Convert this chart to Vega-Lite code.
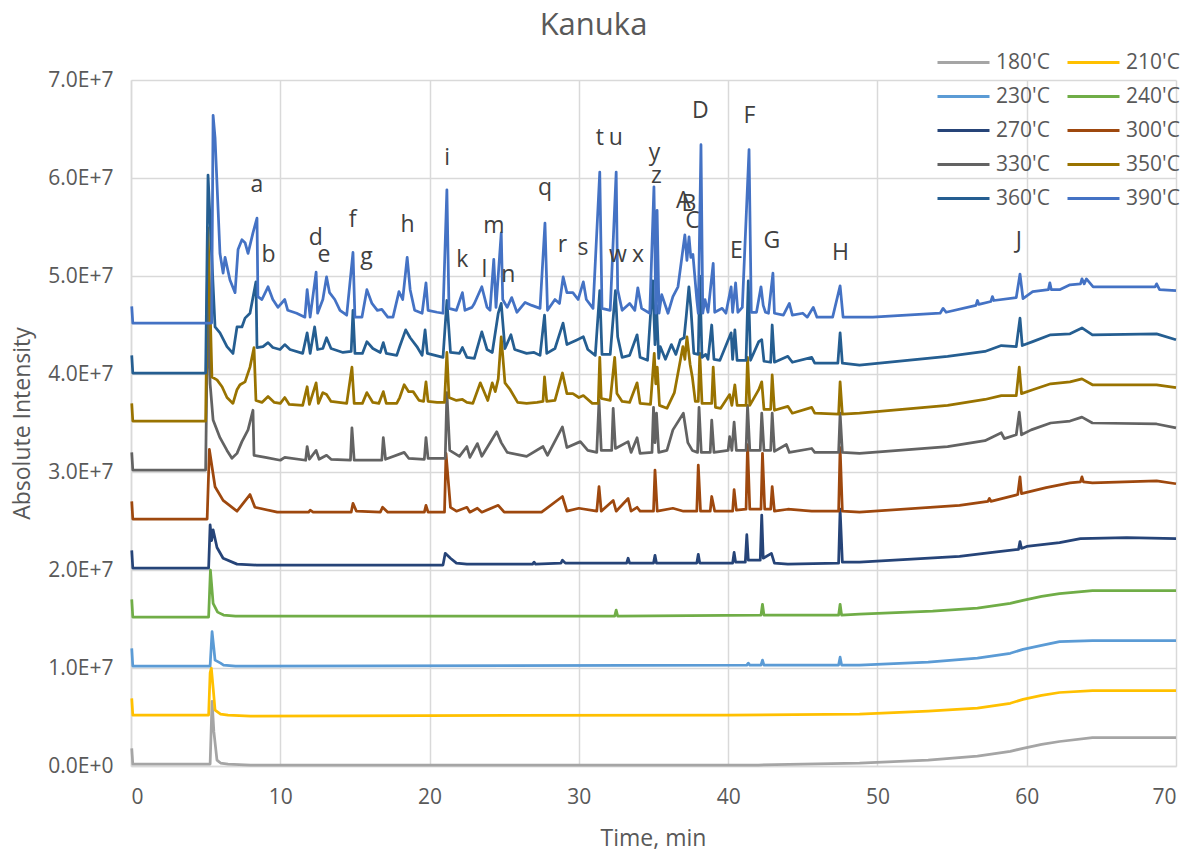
{
"$schema":"https://vega.github.io/schema/vega-lite/v6.json",
"width":1045,"height":686,
"autosize":{"type":"none"},
"padding":{"left":131,"top":80,"right":19,"bottom":86},
"background":"white",
"config":{"view":{"stroke":null},"font":"Open Sans"},
"title":{"text":"Kanuka","fontSize":31,"font":"Open Sans","fontWeight":"normal","color":"#595959","anchor":"middle","dx":-60,"offset":10},
"datasets":{
"series":[
{"s":"180'C","t":0.05,"v":0.18e7},{"s":"180'C","t":0.12,"v":0.02e7},{"s":"180'C","t":5.3,"v":0.02e7},{"s":"180'C","t":5.43,"v":0.66e7},{"s":"180'C","t":5.55,"v":0.35e7},{"s":"180'C","t":5.76,"v":0.06e7},{"s":"180'C","t":6.0,"v":0.03e7},{"s":"180'C","t":6.5,"v":0.02e7},{"s":"180'C","t":8,"v":0.01e7},{"s":"180'C","t":42,"v":0.01e7},{"s":"180'C","t":45,"v":0.02e7},{"s":"180'C","t":48.8,"v":0.03e7},{"s":"180'C","t":53.4,"v":0.06e7},{"s":"180'C","t":56.7,"v":0.10e7},{"s":"180'C","t":58.9,"v":0.15e7},{"s":"180'C","t":59.75,"v":0.18e7},{"s":"180'C","t":61,"v":0.22e7},{"s":"180'C","t":62.2,"v":0.25e7},{"s":"180'C","t":64.4,"v":0.29e7},{"s":"180'C","t":66,"v":0.29e7},{"s":"180'C","t":70,"v":0.29e7},
{"s":"210'C","t":0.05,"v":0.69e7},{"s":"210'C","t":0.12,"v":0.52e7},{"s":"210'C","t":5.2,"v":0.52e7},{"s":"210'C","t":5.3,"v":0.95e7},{"s":"210'C","t":5.38,"v":1.0e7},{"s":"210'C","t":5.5,"v":0.8e7},{"s":"210'C","t":5.63,"v":0.57e7},{"s":"210'C","t":6.0,"v":0.53e7},{"s":"210'C","t":6.5,"v":0.52e7},{"s":"210'C","t":8,"v":0.51e7},{"s":"210'C","t":40,"v":0.52e7},{"s":"210'C","t":48.8,"v":0.53e7},{"s":"210'C","t":53.4,"v":0.56e7},{"s":"210'C","t":56.7,"v":0.59e7},{"s":"210'C","t":58.9,"v":0.64e7},{"s":"210'C","t":59.75,"v":0.68e7},{"s":"210'C","t":61,"v":0.72e7},{"s":"210'C","t":62.2,"v":0.75e7},{"s":"210'C","t":64.4,"v":0.77e7},{"s":"210'C","t":70,"v":0.77e7},
{"s":"230'C","t":0.05,"v":1.2e7},{"s":"230'C","t":0.12,"v":1.02e7},{"s":"230'C","t":5.3,"v":1.02e7},{"s":"230'C","t":5.43,"v":1.37e7},{"s":"230'C","t":5.55,"v":1.2e7},{"s":"230'C","t":5.63,"v":1.08e7},{"s":"230'C","t":6.0,"v":1.05e7},{"s":"230'C","t":6.2,"v":1.03e7},{"s":"230'C","t":7,"v":1.02e7},{"s":"230'C","t":41.25,"v":1.03e7},{"s":"230'C","t":41.35,"v":1.05e7},{"s":"230'C","t":41.45,"v":1.03e7},{"s":"230'C","t":42.2,"v":1.03e7},{"s":"230'C","t":42.3,"v":1.08e7},{"s":"230'C","t":42.4,"v":1.03e7},{"s":"230'C","t":47.4,"v":1.03e7},{"s":"230'C","t":47.5,"v":1.11e7},{"s":"230'C","t":47.6,"v":1.03e7},{"s":"230'C","t":48.8,"v":1.03e7},{"s":"230'C","t":53.4,"v":1.06e7},{"s":"230'C","t":56.7,"v":1.10e7},{"s":"230'C","t":58.9,"v":1.15e7},{"s":"230'C","t":59.75,"v":1.19e7},{"s":"230'C","t":61,"v":1.23e7},{"s":"230'C","t":62.2,"v":1.27e7},{"s":"230'C","t":64.4,"v":1.28e7},{"s":"230'C","t":70,"v":1.28e7},
{"s":"240'C","t":0.05,"v":1.7e7},{"s":"240'C","t":0.12,"v":1.52e7},{"s":"240'C","t":5.2,"v":1.52e7},{"s":"240'C","t":5.32,"v":2.0e7},{"s":"240'C","t":5.5,"v":1.66e7},{"s":"240'C","t":5.8,"v":1.57e7},{"s":"240'C","t":6.2,"v":1.54e7},{"s":"240'C","t":7,"v":1.53e7},{"s":"240'C","t":32.4,"v":1.53e7},{"s":"240'C","t":32.5,"v":1.59e7},{"s":"240'C","t":32.6,"v":1.53e7},{"s":"240'C","t":42.2,"v":1.54e7},{"s":"240'C","t":42.3,"v":1.65e7},{"s":"240'C","t":42.4,"v":1.54e7},{"s":"240'C","t":47.4,"v":1.54e7},{"s":"240'C","t":47.5,"v":1.65e7},{"s":"240'C","t":47.6,"v":1.54e7},{"s":"240'C","t":48.8,"v":1.55e7},{"s":"240'C","t":53.7,"v":1.58e7},{"s":"240'C","t":56.7,"v":1.61e7},{"s":"240'C","t":58.9,"v":1.66e7},{"s":"240'C","t":59.75,"v":1.69e7},{"s":"240'C","t":61,"v":1.73e7},{"s":"240'C","t":62.2,"v":1.76e7},{"s":"240'C","t":64.4,"v":1.79e7},{"s":"240'C","t":70,"v":1.79e7},
{"s":"270'C","t":0.05,"v":2.2e7},{"s":"270'C","t":0.12,"v":2.02e7},{"s":"270'C","t":5.2,"v":2.02e7},{"s":"270'C","t":5.3,"v":2.46e7},{"s":"270'C","t":5.4,"v":2.3e7},{"s":"270'C","t":5.5,"v":2.41e7},{"s":"270'C","t":5.76,"v":2.23e7},{"s":"270'C","t":6.17,"v":2.12e7},{"s":"270'C","t":7.1,"v":2.06e7},{"s":"270'C","t":8.4,"v":2.05e7},{"s":"270'C","t":20.9,"v":2.05e7},{"s":"270'C","t":21.05,"v":2.17e7},{"s":"270'C","t":21.4,"v":2.12e7},{"s":"270'C","t":21.8,"v":2.07e7},{"s":"270'C","t":22.5,"v":2.06e7},{"s":"270'C","t":26.9,"v":2.06e7},{"s":"270'C","t":27.0,"v":2.08e7},{"s":"270'C","t":27.1,"v":2.06e7},{"s":"270'C","t":28.8,"v":2.07e7},{"s":"270'C","t":28.9,"v":2.1e7},{"s":"270'C","t":29.1,"v":2.07e7},{"s":"270'C","t":33.2,"v":2.07e7},{"s":"270'C","t":33.3,"v":2.12e7},{"s":"270'C","t":33.4,"v":2.07e7},{"s":"270'C","t":35.0,"v":2.07e7},{"s":"270'C","t":35.1,"v":2.15e7},{"s":"270'C","t":35.2,"v":2.07e7},{"s":"270'C","t":37.9,"v":2.07e7},{"s":"270'C","t":38.0,"v":2.16e7},{"s":"270'C","t":38.1,"v":2.07e7},{"s":"270'C","t":40.3,"v":2.07e7},{"s":"270'C","t":40.4,"v":2.18e7},{"s":"270'C","t":40.5,"v":2.08e7},{"s":"270'C","t":41.15,"v":2.08e7},{"s":"270'C","t":41.25,"v":2.36e7},{"s":"270'C","t":41.35,"v":2.1e7},{"s":"270'C","t":42.15,"v":2.1e7},{"s":"270'C","t":42.25,"v":2.56e7},{"s":"270'C","t":42.35,"v":2.12e7},{"s":"270'C","t":42.9,"v":2.17e7},{"s":"270'C","t":43.1,"v":2.07e7},{"s":"270'C","t":44,"v":2.06e7},{"s":"270'C","t":47.4,"v":2.07e7},{"s":"270'C","t":47.5,"v":2.62e7},{"s":"270'C","t":47.65,"v":2.08e7},{"s":"270'C","t":48.8,"v":2.08e7},{"s":"270'C","t":55.5,"v":2.14e7},{"s":"270'C","t":57.7,"v":2.18e7},{"s":"270'C","t":59.45,"v":2.21e7},{"s":"270'C","t":59.55,"v":2.29e7},{"s":"270'C","t":59.65,"v":2.22e7},{"s":"270'C","t":60,"v":2.24e7},{"s":"270'C","t":62.2,"v":2.28e7},{"s":"270'C","t":63.6,"v":2.32e7},{"s":"270'C","t":66.7,"v":2.33e7},{"s":"270'C","t":70,"v":2.32e7},
{"s":"300'C","t":0.05,"v":2.7e7},{"s":"300'C","t":0.12,"v":2.52e7},{"s":"300'C","t":5.1,"v":2.52e7},{"s":"300'C","t":5.25,"v":3.23e7},{"s":"300'C","t":5.38,"v":3.1e7},{"s":"300'C","t":5.63,"v":2.85e7},{"s":"300'C","t":6.17,"v":2.71e7},{"s":"300'C","t":7.1,"v":2.6e7},{"s":"300'C","t":7.97,"v":2.77e7},{"s":"300'C","t":8.3,"v":2.64e7},{"s":"300'C","t":9.8,"v":2.59e7},{"s":"300'C","t":11.9,"v":2.59e7},{"s":"300'C","t":12.0,"v":2.61e7},{"s":"300'C","t":12.2,"v":2.59e7},{"s":"300'C","t":14.75,"v":2.59e7},{"s":"300'C","t":14.87,"v":2.68e7},{"s":"300'C","t":15.1,"v":2.6e7},{"s":"300'C","t":16.7,"v":2.59e7},{"s":"300'C","t":16.85,"v":2.64e7},{"s":"300'C","t":17.2,"v":2.59e7},{"s":"300'C","t":19.65,"v":2.59e7},{"s":"300'C","t":19.76,"v":2.66e7},{"s":"300'C","t":19.9,"v":2.59e7},{"s":"300'C","t":21.0,"v":2.59e7},{"s":"300'C","t":21.1,"v":3.19e7},{"s":"300'C","t":21.4,"v":2.64e7},{"s":"300'C","t":21.8,"v":2.6e7},{"s":"300'C","t":22.5,"v":2.64e7},{"s":"300'C","t":22.7,"v":2.59e7},{"s":"300'C","t":23.2,"v":2.63e7},{"s":"300'C","t":23.5,"v":2.59e7},{"s":"300'C","t":24.6,"v":2.66e7},{"s":"300'C","t":25,"v":2.59e7},{"s":"300'C","t":27.5,"v":2.59e7},{"s":"300'C","t":28.9,"v":2.75e7},{"s":"300'C","t":29.2,"v":2.6e7},{"s":"300'C","t":30.0,"v":2.63e7},{"s":"300'C","t":31.2,"v":2.6e7},{"s":"300'C","t":31.35,"v":2.85e7},{"s":"300'C","t":31.5,"v":2.6e7},{"s":"300'C","t":32.3,"v":2.71e7},{"s":"300'C","t":32.5,"v":2.6e7},{"s":"300'C","t":33.3,"v":2.73e7},{"s":"300'C","t":33.5,"v":2.6e7},{"s":"300'C","t":33.9,"v":2.64e7},{"s":"300'C","t":34.1,"v":2.6e7},{"s":"300'C","t":35.0,"v":2.6e7},{"s":"300'C","t":35.1,"v":3.02e7},{"s":"300'C","t":35.25,"v":2.6e7},{"s":"300'C","t":36.3,"v":2.63e7},{"s":"300'C","t":37.0,"v":2.6e7},{"s":"300'C","t":37.9,"v":2.6e7},{"s":"300'C","t":38.0,"v":3.07e7},{"s":"300'C","t":38.15,"v":2.6e7},{"s":"300'C","t":38.8,"v":2.6e7},{"s":"300'C","t":38.9,"v":2.75e7},{"s":"300'C","t":39.1,"v":2.6e7},{"s":"300'C","t":40.3,"v":2.6e7},{"s":"300'C","t":40.4,"v":2.82e7},{"s":"300'C","t":40.55,"v":2.61e7},{"s":"300'C","t":41.2,"v":2.62e7},{"s":"300'C","t":41.3,"v":3.28e7},{"s":"300'C","t":41.45,"v":2.62e7},{"s":"300'C","t":42.2,"v":2.62e7},{"s":"300'C","t":42.3,"v":3.19e7},{"s":"300'C","t":42.45,"v":2.62e7},{"s":"300'C","t":42.85,"v":2.62e7},{"s":"300'C","t":42.95,"v":2.85e7},{"s":"300'C","t":43.1,"v":2.6e7},{"s":"300'C","t":44.0,"v":2.62e7},{"s":"300'C","t":45.6,"v":2.6e7},{"s":"300'C","t":47.4,"v":2.6e7},{"s":"300'C","t":47.5,"v":3.25e7},{"s":"300'C","t":47.65,"v":2.6e7},{"s":"300'C","t":48.8,"v":2.59e7},{"s":"300'C","t":55.5,"v":2.66e7},{"s":"300'C","t":57.4,"v":2.7e7},{"s":"300'C","t":57.5,"v":2.73e7},{"s":"300'C","t":57.6,"v":2.7e7},{"s":"300'C","t":59.4,"v":2.77e7},{"s":"300'C","t":59.55,"v":2.95e7},{"s":"300'C","t":59.65,"v":2.78e7},{"s":"300'C","t":61.3,"v":2.84e7},{"s":"300'C","t":62.9,"v":2.89e7},{"s":"300'C","t":63.6,"v":2.9e7},{"s":"300'C","t":63.7,"v":2.95e7},{"s":"300'C","t":63.8,"v":2.9e7},{"s":"300'C","t":64.4,"v":2.89e7},{"s":"300'C","t":68.7,"v":2.91e7},{"s":"300'C","t":70,"v":2.88e7},
{"s":"330'C","t":0.05,"v":3.2e7},{"s":"330'C","t":0.12,"v":3.02e7},{"s":"330'C","t":5.0,"v":3.02e7},{"s":"330'C","t":5.15,"v":4.8e7},{"s":"330'C","t":5.3,"v":3.9e7},{"s":"330'C","t":5.5,"v":3.53e7},{"s":"330'C","t":5.96,"v":3.35e7},{"s":"330'C","t":6.43,"v":3.22e7},{"s":"330'C","t":6.76,"v":3.14e7},{"s":"330'C","t":7.1,"v":3.19e7},{"s":"330'C","t":7.43,"v":3.31e7},{"s":"330'C","t":7.84,"v":3.43e7},{"s":"330'C","t":8.17,"v":3.63e7},{"s":"330'C","t":8.24,"v":3.17e7},{"s":"330'C","t":9,"v":3.15e7},{"s":"330'C","t":10,"v":3.12e7},{"s":"330'C","t":10.3,"v":3.15e7},{"s":"330'C","t":11.7,"v":3.12e7},{"s":"330'C","t":11.8,"v":3.26e7},{"s":"330'C","t":11.95,"v":3.13e7},{"s":"330'C","t":12.4,"v":3.22e7},{"s":"330'C","t":12.6,"v":3.13e7},{"s":"330'C","t":13.1,"v":3.17e7},{"s":"330'C","t":13.4,"v":3.13e7},{"s":"330'C","t":14.7,"v":3.12e7},{"s":"330'C","t":14.8,"v":3.45e7},{"s":"330'C","t":14.95,"v":3.12e7},{"s":"330'C","t":16.8,"v":3.12e7},{"s":"330'C","t":16.9,"v":3.35e7},{"s":"330'C","t":17.05,"v":3.13e7},{"s":"330'C","t":18.3,"v":3.2e7},{"s":"330'C","t":18.6,"v":3.14e7},{"s":"330'C","t":19.65,"v":3.13e7},{"s":"330'C","t":19.76,"v":3.35e7},{"s":"330'C","t":19.9,"v":3.14e7},{"s":"330'C","t":21.05,"v":3.14e7},{"s":"330'C","t":21.16,"v":3.81e7},{"s":"330'C","t":21.35,"v":3.22e7},{"s":"330'C","t":22.0,"v":3.16e7},{"s":"330'C","t":22.5,"v":3.26e7},{"s":"330'C","t":22.7,"v":3.15e7},{"s":"330'C","t":23.2,"v":3.29e7},{"s":"330'C","t":23.5,"v":3.16e7},{"s":"330'C","t":24.5,"v":3.41e7},{"s":"330'C","t":24.8,"v":3.3e7},{"s":"330'C","t":25.2,"v":3.2e7},{"s":"330'C","t":26.5,"v":3.16e7},{"s":"330'C","t":27.6,"v":3.26e7},{"s":"330'C","t":27.9,"v":3.17e7},{"s":"330'C","t":28.9,"v":3.46e7},{"s":"330'C","t":29.2,"v":3.25e7},{"s":"330'C","t":30.1,"v":3.31e7},{"s":"330'C","t":30.6,"v":3.22e7},{"s":"330'C","t":31.2,"v":3.2e7},{"s":"330'C","t":31.35,"v":3.73e7},{"s":"330'C","t":31.5,"v":3.22e7},{"s":"330'C","t":32.2,"v":3.22e7},{"s":"330'C","t":32.3,"v":3.65e7},{"s":"330'C","t":32.45,"v":3.24e7},{"s":"330'C","t":33.3,"v":3.31e7},{"s":"330'C","t":33.5,"v":3.2e7},{"s":"330'C","t":33.9,"v":3.35e7},{"s":"330'C","t":34.1,"v":3.19e7},{"s":"330'C","t":34.9,"v":3.2e7},{"s":"330'C","t":35.0,"v":3.66e7},{"s":"330'C","t":35.1,"v":3.3e7},{"s":"330'C","t":35.2,"v":3.6e7},{"s":"330'C","t":35.35,"v":3.2e7},{"s":"330'C","t":35.9,"v":3.22e7},{"s":"330'C","t":36.3,"v":3.43e7},{"s":"330'C","t":37.0,"v":3.6e7},{"s":"330'C","t":37.3,"v":3.3e7},{"s":"330'C","t":37.6,"v":3.22e7},{"s":"330'C","t":37.95,"v":3.2e7},{"s":"330'C","t":38.05,"v":3.66e7},{"s":"330'C","t":38.2,"v":3.2e7},{"s":"330'C","t":38.8,"v":3.2e7},{"s":"330'C","t":38.9,"v":3.53e7},{"s":"330'C","t":39.05,"v":3.2e7},{"s":"330'C","t":40.0,"v":3.22e7},{"s":"330'C","t":40.1,"v":3.36e7},{"s":"330'C","t":40.25,"v":3.22e7},{"s":"330'C","t":40.4,"v":3.51e7},{"s":"330'C","t":40.55,"v":3.22e7},{"s":"330'C","t":41.2,"v":3.22e7},{"s":"330'C","t":41.3,"v":3.68e7},{"s":"330'C","t":41.45,"v":3.22e7},{"s":"330'C","t":42.15,"v":3.22e7},{"s":"330'C","t":42.25,"v":3.6e7},{"s":"330'C","t":42.4,"v":3.22e7},{"s":"330'C","t":42.85,"v":3.22e7},{"s":"330'C","t":42.95,"v":3.6e7},{"s":"330'C","t":43.1,"v":3.21e7},{"s":"330'C","t":43.9,"v":3.28e7},{"s":"330'C","t":44.1,"v":3.2e7},{"s":"330'C","t":45.6,"v":3.24e7},{"s":"330'C","t":45.8,"v":3.2e7},{"s":"330'C","t":47.4,"v":3.2e7},{"s":"330'C","t":47.5,"v":3.6e7},{"s":"330'C","t":47.65,"v":3.2e7},{"s":"330'C","t":48.8,"v":3.19e7},{"s":"330'C","t":54.7,"v":3.26e7},{"s":"330'C","t":57.2,"v":3.32e7},{"s":"330'C","t":58.3,"v":3.4e7},{"s":"330'C","t":58.5,"v":3.34e7},{"s":"330'C","t":59.3,"v":3.38e7},{"s":"330'C","t":59.5,"v":3.61e7},{"s":"330'C","t":59.65,"v":3.38e7},{"s":"330'C","t":60.3,"v":3.43e7},{"s":"330'C","t":61.6,"v":3.5e7},{"s":"330'C","t":62.9,"v":3.52e7},{"s":"330'C","t":63.7,"v":3.56e7},{"s":"330'C","t":64.4,"v":3.5e7},{"s":"330'C","t":68.7,"v":3.49e7},{"s":"330'C","t":70,"v":3.45e7},
{"s":"350'C","t":0.05,"v":3.7e7},{"s":"350'C","t":0.12,"v":3.52e7},{"s":"350'C","t":5.0,"v":3.52e7},{"s":"350'C","t":5.16,"v":5.49e7},{"s":"350'C","t":5.42,"v":3.97e7},{"s":"350'C","t":5.76,"v":3.94e7},{"s":"350'C","t":6.1,"v":3.87e7},{"s":"350'C","t":6.43,"v":3.76e7},{"s":"350'C","t":6.83,"v":3.7e7},{"s":"350'C","t":7.1,"v":3.84e7},{"s":"350'C","t":7.3,"v":3.89e7},{"s":"350'C","t":7.64,"v":3.92e7},{"s":"350'C","t":7.97,"v":4.07e7},{"s":"350'C","t":8.24,"v":4.27e7},{"s":"350'C","t":8.37,"v":3.73e7},{"s":"350'C","t":8.77,"v":3.71e7},{"s":"350'C","t":9.18,"v":3.77e7},{"s":"350'C","t":9.6,"v":3.71e7},{"s":"350'C","t":10,"v":3.7e7},{"s":"350'C","t":10.3,"v":3.76e7},{"s":"350'C","t":10.6,"v":3.69e7},{"s":"350'C","t":11.5,"v":3.68e7},{"s":"350'C","t":11.8,"v":3.87e7},{"s":"350'C","t":11.95,"v":3.69e7},{"s":"350'C","t":12.4,"v":3.91e7},{"s":"350'C","t":12.55,"v":3.7e7},{"s":"350'C","t":12.85,"v":3.81e7},{"s":"350'C","t":13.1,"v":3.79e7},{"s":"350'C","t":13.4,"v":3.72e7},{"s":"350'C","t":14.45,"v":3.7e7},{"s":"350'C","t":14.8,"v":4.07e7},{"s":"350'C","t":14.95,"v":3.7e7},{"s":"350'C","t":15.5,"v":3.7e7},{"s":"350'C","t":15.8,"v":3.81e7},{"s":"350'C","t":16.2,"v":3.71e7},{"s":"350'C","t":16.6,"v":3.7e7},{"s":"350'C","t":16.9,"v":3.82e7},{"s":"350'C","t":17.1,"v":3.7e7},{"s":"350'C","t":17.8,"v":3.7e7},{"s":"350'C","t":18.0,"v":3.76e7},{"s":"350'C","t":18.3,"v":3.89e7},{"s":"350'C","t":18.6,"v":3.82e7},{"s":"350'C","t":18.9,"v":3.82e7},{"s":"350'C","t":19.3,"v":3.73e7},{"s":"350'C","t":19.6,"v":3.72e7},{"s":"350'C","t":19.76,"v":3.92e7},{"s":"350'C","t":19.9,"v":3.72e7},{"s":"350'C","t":20.5,"v":3.71e7},{"s":"350'C","t":21.0,"v":3.71e7},{"s":"350'C","t":21.16,"v":4.22e7},{"s":"350'C","t":21.3,"v":3.76e7},{"s":"350'C","t":21.8,"v":3.73e7},{"s":"350'C","t":22.2,"v":3.74e7},{"s":"350'C","t":22.5,"v":3.71e7},{"s":"350'C","t":22.9,"v":3.7e7},{"s":"350'C","t":23.4,"v":3.91e7},{"s":"350'C","t":23.9,"v":3.73e7},{"s":"350'C","t":24.2,"v":3.91e7},{"s":"350'C","t":24.4,"v":3.82e7},{"s":"350'C","t":24.6,"v":3.95e7},{"s":"350'C","t":24.8,"v":4.38e7},{"s":"350'C","t":25.05,"v":3.91e7},{"s":"350'C","t":25.4,"v":3.84e7},{"s":"350'C","t":25.9,"v":3.71e7},{"s":"350'C","t":26.5,"v":3.7e7},{"s":"350'C","t":27.2,"v":3.71e7},{"s":"350'C","t":27.6,"v":3.72e7},{"s":"350'C","t":27.7,"v":3.97e7},{"s":"350'C","t":27.85,"v":3.72e7},{"s":"350'C","t":28.4,"v":3.73e7},{"s":"350'C","t":28.9,"v":4.01e7},{"s":"350'C","t":29.2,"v":3.8e7},{"s":"350'C","t":29.6,"v":3.8e7},{"s":"350'C","t":30.0,"v":3.76e7},{"s":"350'C","t":30.3,"v":3.78e7},{"s":"350'C","t":30.9,"v":3.7e7},{"s":"350'C","t":31.3,"v":3.7e7},{"s":"350'C","t":31.4,"v":4.17e7},{"s":"350'C","t":31.5,"v":3.75e7},{"s":"350'C","t":32.1,"v":3.73e7},{"s":"350'C","t":32.4,"v":4.17e7},{"s":"350'C","t":32.55,"v":3.8e7},{"s":"350'C","t":32.9,"v":3.72e7},{"s":"350'C","t":33.4,"v":3.71e7},{"s":"350'C","t":33.9,"v":3.91e7},{"s":"350'C","t":34.1,"v":3.7e7},{"s":"350'C","t":34.8,"v":3.69e7},{"s":"350'C","t":35.05,"v":4.21e7},{"s":"350'C","t":35.15,"v":3.9e7},{"s":"350'C","t":35.25,"v":4.07e7},{"s":"350'C","t":35.4,"v":3.68e7},{"s":"350'C","t":35.9,"v":3.65e7},{"s":"350'C","t":36.4,"v":3.81e7},{"s":"350'C","t":36.97,"v":4.28e7},{"s":"350'C","t":37.1,"v":4.15e7},{"s":"350'C","t":37.24,"v":4.38e7},{"s":"350'C","t":37.45,"v":4.1e7},{"s":"350'C","t":37.6,"v":3.97e7},{"s":"350'C","t":37.8,"v":3.72e7},{"s":"350'C","t":38.0,"v":3.72e7},{"s":"350'C","t":38.1,"v":4.21e7},{"s":"350'C","t":38.25,"v":3.7e7},{"s":"350'C","t":38.9,"v":3.7e7},{"s":"350'C","t":39.0,"v":4.07e7},{"s":"350'C","t":39.15,"v":3.66e7},{"s":"350'C","t":39.5,"v":3.65e7},{"s":"350'C","t":40.1,"v":3.79e7},{"s":"350'C","t":40.25,"v":3.68e7},{"s":"350'C","t":40.45,"v":3.89e7},{"s":"350'C","t":40.6,"v":3.68e7},{"s":"350'C","t":41.2,"v":3.68e7},{"s":"350'C","t":41.3,"v":4.17e7},{"s":"350'C","t":41.45,"v":3.68e7},{"s":"350'C","t":42.05,"v":3.84e7},{"s":"350'C","t":42.25,"v":3.92e7},{"s":"350'C","t":42.4,"v":3.64e7},{"s":"350'C","t":42.85,"v":3.64e7},{"s":"350'C","t":42.95,"v":3.99e7},{"s":"350'C","t":43.1,"v":3.63e7},{"s":"350'C","t":44.0,"v":3.67e7},{"s":"350'C","t":44.3,"v":3.6e7},{"s":"350'C","t":45.6,"v":3.66e7},{"s":"350'C","t":45.8,"v":3.6e7},{"s":"350'C","t":47.4,"v":3.59e7},{"s":"350'C","t":47.5,"v":3.92e7},{"s":"350'C","t":47.65,"v":3.59e7},{"s":"350'C","t":48.8,"v":3.6e7},{"s":"350'C","t":54.7,"v":3.68e7},{"s":"350'C","t":57.2,"v":3.74e7},{"s":"350'C","t":58.3,"v":3.78e7},{"s":"350'C","t":59.3,"v":3.78e7},{"s":"350'C","t":59.5,"v":4.07e7},{"s":"350'C","t":59.65,"v":3.8e7},{"s":"350'C","t":60.4,"v":3.84e7},{"s":"350'C","t":61.6,"v":3.9e7},{"s":"350'C","t":62.9,"v":3.92e7},{"s":"350'C","t":63.7,"v":3.95e7},{"s":"350'C","t":64.4,"v":3.89e7},{"s":"350'C","t":68.7,"v":3.89e7},{"s":"350'C","t":70,"v":3.86e7},
{"s":"360'C","t":0.05,"v":4.19e7},{"s":"360'C","t":0.12,"v":4.01e7},{"s":"360'C","t":5.0,"v":4.01e7},{"s":"360'C","t":5.16,"v":6.03e7},{"s":"360'C","t":5.42,"v":5.16e7},{"s":"360'C","t":5.63,"v":4.48e7},{"s":"360'C","t":5.96,"v":4.42e7},{"s":"360'C","t":6.43,"v":4.28e7},{"s":"360'C","t":6.83,"v":4.21e7},{"s":"360'C","t":7.1,"v":4.48e7},{"s":"360'C","t":7.43,"v":4.48e7},{"s":"360'C","t":7.64,"v":4.57e7},{"s":"360'C","t":7.97,"v":4.62e7},{"s":"360'C","t":8.37,"v":4.94e7},{"s":"360'C","t":8.44,"v":4.27e7},{"s":"360'C","t":8.84,"v":4.28e7},{"s":"360'C","t":9.18,"v":4.32e7},{"s":"360'C","t":9.5,"v":4.27e7},{"s":"360'C","t":9.98,"v":4.25e7},{"s":"360'C","t":10.3,"v":4.3e7},{"s":"360'C","t":10.65,"v":4.25e7},{"s":"360'C","t":11.5,"v":4.21e7},{"s":"360'C","t":11.8,"v":4.42e7},{"s":"360'C","t":12.0,"v":4.21e7},{"s":"360'C","t":12.3,"v":4.48e7},{"s":"360'C","t":12.5,"v":4.25e7},{"s":"360'C","t":12.85,"v":4.26e7},{"s":"360'C","t":13.1,"v":4.37e7},{"s":"360'C","t":13.4,"v":4.26e7},{"s":"360'C","t":14.2,"v":4.22e7},{"s":"360'C","t":14.75,"v":4.23e7},{"s":"360'C","t":14.87,"v":4.65e7},{"s":"360'C","t":15.0,"v":4.21e7},{"s":"360'C","t":15.5,"v":4.21e7},{"s":"360'C","t":15.8,"v":4.33e7},{"s":"360'C","t":16.2,"v":4.26e7},{"s":"360'C","t":16.7,"v":4.22e7},{"s":"360'C","t":16.9,"v":4.32e7},{"s":"360'C","t":17.1,"v":4.21e7},{"s":"360'C","t":17.8,"v":4.19e7},{"s":"360'C","t":18.0,"v":4.28e7},{"s":"360'C","t":18.4,"v":4.45e7},{"s":"360'C","t":18.7,"v":4.37e7},{"s":"360'C","t":19.15,"v":4.28e7},{"s":"360'C","t":19.5,"v":4.19e7},{"s":"360'C","t":19.7,"v":4.45e7},{"s":"360'C","t":19.85,"v":4.21e7},{"s":"360'C","t":20.9,"v":4.17e7},{"s":"360'C","t":21.16,"v":4.75e7},{"s":"360'C","t":21.4,"v":4.22e7},{"s":"360'C","t":22.0,"v":4.21e7},{"s":"360'C","t":22.2,"v":4.27e7},{"s":"360'C","t":22.5,"v":4.17e7},{"s":"360'C","t":23.0,"v":4.16e7},{"s":"360'C","t":23.5,"v":4.43e7},{"s":"360'C","t":23.85,"v":4.25e7},{"s":"360'C","t":24.2,"v":4.22e7},{"s":"360'C","t":24.6,"v":4.62e7},{"s":"360'C","t":24.8,"v":4.72e7},{"s":"360'C","t":25.05,"v":4.26e7},{"s":"360'C","t":25.45,"v":4.4e7},{"s":"360'C","t":25.7,"v":4.25e7},{"s":"360'C","t":26.5,"v":4.21e7},{"s":"360'C","t":27.0,"v":4.22e7},{"s":"360'C","t":27.4,"v":4.19e7},{"s":"360'C","t":27.7,"v":4.6e7},{"s":"360'C","t":27.85,"v":4.21e7},{"s":"360'C","t":28.4,"v":4.26e7},{"s":"360'C","t":28.94,"v":4.52e7},{"s":"360'C","t":29.2,"v":4.3e7},{"s":"360'C","t":29.9,"v":4.35e7},{"s":"360'C","t":30.3,"v":4.38e7},{"s":"360'C","t":30.6,"v":4.25e7},{"s":"360'C","t":31.1,"v":4.19e7},{"s":"360'C","t":31.4,"v":4.85e7},{"s":"360'C","t":31.55,"v":4.2e7},{"s":"360'C","t":32.1,"v":4.2e7},{"s":"360'C","t":32.45,"v":4.85e7},{"s":"360'C","t":32.6,"v":4.38e7},{"s":"360'C","t":32.9,"v":4.17e7},{"s":"360'C","t":33.4,"v":4.19e7},{"s":"360'C","t":33.9,"v":4.4e7},{"s":"360'C","t":34.1,"v":4.17e7},{"s":"360'C","t":34.6,"v":4.14e7},{"s":"360'C","t":34.95,"v":4.95e7},{"s":"360'C","t":35.1,"v":4.3e7},{"s":"360'C","t":35.2,"v":4.7e7},{"s":"360'C","t":35.35,"v":4.16e7},{"s":"360'C","t":35.45,"v":4.28e7},{"s":"360'C","t":35.8,"v":4.15e7},{"s":"360'C","t":36.2,"v":4.3e7},{"s":"360'C","t":36.5,"v":4.2e7},{"s":"360'C","t":36.8,"v":4.35e7},{"s":"360'C","t":37.05,"v":4.37e7},{"s":"360'C","t":37.2,"v":4.6e7},{"s":"360'C","t":37.37,"v":4.89e7},{"s":"360'C","t":37.5,"v":4.68e7},{"s":"360'C","t":37.6,"v":4.45e7},{"s":"360'C","t":37.7,"v":4.21e7},{"s":"360'C","t":38.0,"v":4.2e7},{"s":"360'C","t":38.1,"v":5.0e7},{"s":"360'C","t":38.25,"v":4.17e7},{"s":"360'C","t":38.5,"v":4.2e7},{"s":"360'C","t":38.65,"v":4.15e7},{"s":"360'C","t":38.9,"v":4.5e7},{"s":"360'C","t":39.05,"v":4.15e7},{"s":"360'C","t":39.45,"v":4.14e7},{"s":"360'C","t":40.2,"v":4.42e7},{"s":"360'C","t":40.3,"v":4.15e7},{"s":"360'C","t":40.45,"v":4.45e7},{"s":"360'C","t":40.6,"v":4.14e7},{"s":"360'C","t":41.2,"v":4.14e7},{"s":"360'C","t":41.35,"v":4.95e7},{"s":"360'C","t":41.5,"v":4.14e7},{"s":"360'C","t":42.05,"v":4.33e7},{"s":"360'C","t":42.25,"v":4.35e7},{"s":"360'C","t":42.4,"v":4.13e7},{"s":"360'C","t":42.85,"v":4.12e7},{"s":"360'C","t":42.95,"v":4.5e7},{"s":"360'C","t":43.1,"v":4.12e7},{"s":"360'C","t":44.0,"v":4.18e7},{"s":"360'C","t":44.3,"v":4.12e7},{"s":"360'C","t":45.6,"v":4.17e7},{"s":"360'C","t":45.8,"v":4.11e7},{"s":"360'C","t":47.35,"v":4.11e7},{"s":"360'C","t":47.5,"v":4.42e7},{"s":"360'C","t":47.65,"v":4.11e7},{"s":"360'C","t":48.8,"v":4.09e7},{"s":"360'C","t":54.7,"v":4.18e7},{"s":"360'C","t":57.2,"v":4.23e7},{"s":"360'C","t":58.3,"v":4.29e7},{"s":"360'C","t":59.3,"v":4.28e7},{"s":"360'C","t":59.55,"v":4.57e7},{"s":"360'C","t":59.7,"v":4.29e7},{"s":"360'C","t":60.4,"v":4.33e7},{"s":"360'C","t":61.6,"v":4.4e7},{"s":"360'C","t":62.9,"v":4.41e7},{"s":"360'C","t":63.7,"v":4.47e7},{"s":"360'C","t":64.4,"v":4.4e7},{"s":"360'C","t":68.7,"v":4.41e7},{"s":"360'C","t":70,"v":4.35e7},
{"s":"390'C","t":0.05,"v":4.69e7},{"s":"390'C","t":0.12,"v":4.52e7},{"s":"390'C","t":5.4,"v":4.52e7},{"s":"390'C","t":5.5,"v":6.64e7},{"s":"390'C","t":5.63,"v":6.41e7},{"s":"390'C","t":5.96,"v":5.23e7},{"s":"390'C","t":6.17,"v":5.03e7},{"s":"390'C","t":6.3,"v":5.19e7},{"s":"390'C","t":6.63,"v":4.96e7},{"s":"390'C","t":6.97,"v":4.83e7},{"s":"390'C","t":7.17,"v":5.27e7},{"s":"390'C","t":7.43,"v":5.37e7},{"s":"390'C","t":7.64,"v":5.34e7},{"s":"390'C","t":7.84,"v":5.23e7},{"s":"390'C","t":8.17,"v":5.44e7},{"s":"390'C","t":8.44,"v":5.59e7},{"s":"390'C","t":8.5,"v":4.79e7},{"s":"390'C","t":8.77,"v":4.76e7},{"s":"390'C","t":9.18,"v":4.89e7},{"s":"390'C","t":9.5,"v":4.76e7},{"s":"390'C","t":9.84,"v":4.68e7},{"s":"390'C","t":10.3,"v":4.76e7},{"s":"390'C","t":10.5,"v":4.65e7},{"s":"390'C","t":11.1,"v":4.62e7},{"s":"390'C","t":11.65,"v":4.58e7},{"s":"390'C","t":11.8,"v":4.86e7},{"s":"390'C","t":12.0,"v":4.58e7},{"s":"390'C","t":12.4,"v":5.04e7},{"s":"390'C","t":12.5,"v":4.62e7},{"s":"390'C","t":12.85,"v":4.76e7},{"s":"390'C","t":13.1,"v":4.99e7},{"s":"390'C","t":13.3,"v":4.83e7},{"s":"390'C","t":13.65,"v":4.76e7},{"s":"390'C","t":14.0,"v":4.65e7},{"s":"390'C","t":14.45,"v":4.6e7},{"s":"390'C","t":14.87,"v":5.24e7},{"s":"390'C","t":15.0,"v":4.58e7},{"s":"390'C","t":15.47,"v":4.58e7},{"s":"390'C","t":15.8,"v":4.86e7},{"s":"390'C","t":16.14,"v":4.72e7},{"s":"390'C","t":16.5,"v":4.65e7},{"s":"390'C","t":16.8,"v":4.66e7},{"s":"390'C","t":17.2,"v":4.58e7},{"s":"390'C","t":17.55,"v":4.58e7},{"s":"390'C","t":17.95,"v":4.84e7},{"s":"390'C","t":18.2,"v":4.76e7},{"s":"390'C","t":18.5,"v":5.19e7},{"s":"390'C","t":18.7,"v":4.86e7},{"s":"390'C","t":19.0,"v":4.65e7},{"s":"390'C","t":19.5,"v":4.62e7},{"s":"390'C","t":19.76,"v":4.93e7},{"s":"390'C","t":19.9,"v":4.65e7},{"s":"390'C","t":20.5,"v":4.63e7},{"s":"390'C","t":20.9,"v":4.62e7},{"s":"390'C","t":21.16,"v":5.88e7},{"s":"390'C","t":21.3,"v":4.67e7},{"s":"390'C","t":21.8,"v":4.65e7},{"s":"390'C","t":22.2,"v":4.83e7},{"s":"390'C","t":22.37,"v":4.65e7},{"s":"390'C","t":22.84,"v":4.68e7},{"s":"390'C","t":23.0,"v":4.72e7},{"s":"390'C","t":23.5,"v":4.89e7},{"s":"390'C","t":23.85,"v":4.68e7},{"s":"390'C","t":24.05,"v":4.65e7},{"s":"390'C","t":24.3,"v":5.17e7},{"s":"390'C","t":24.45,"v":4.68e7},{"s":"390'C","t":24.8,"v":5.44e7},{"s":"390'C","t":24.9,"v":4.76e7},{"s":"390'C","t":25.2,"v":4.68e7},{"s":"390'C","t":25.5,"v":4.78e7},{"s":"390'C","t":25.85,"v":4.63e7},{"s":"390'C","t":26.4,"v":4.73e7},{"s":"390'C","t":26.85,"v":4.7e7},{"s":"390'C","t":27.4,"v":4.67e7},{"s":"390'C","t":27.73,"v":5.54e7},{"s":"390'C","t":27.9,"v":4.65e7},{"s":"390'C","t":28.4,"v":4.76e7},{"s":"390'C","t":28.7,"v":4.72e7},{"s":"390'C","t":28.95,"v":4.99e7},{"s":"390'C","t":29.2,"v":4.83e7},{"s":"390'C","t":29.6,"v":4.83e7},{"s":"390'C","t":29.95,"v":4.76e7},{"s":"390'C","t":30.3,"v":4.94e7},{"s":"390'C","t":30.5,"v":4.76e7},{"s":"390'C","t":30.95,"v":4.67e7},{"s":"390'C","t":31.4,"v":6.06e7},{"s":"390'C","t":31.55,"v":4.67e7},{"s":"390'C","t":32.1,"v":4.65e7},{"s":"390'C","t":32.5,"v":6.06e7},{"s":"390'C","t":32.6,"v":4.86e7},{"s":"390'C","t":32.9,"v":4.65e7},{"s":"390'C","t":33.4,"v":4.72e7},{"s":"390'C","t":33.75,"v":4.65e7},{"s":"390'C","t":33.95,"v":4.88e7},{"s":"390'C","t":34.2,"v":4.67e7},{"s":"390'C","t":34.75,"v":4.62e7},{"s":"390'C","t":35.03,"v":5.91e7},{"s":"390'C","t":35.16,"v":4.62e7},{"s":"390'C","t":35.24,"v":5.67e7},{"s":"390'C","t":35.37,"v":4.62e7},{"s":"390'C","t":35.55,"v":4.81e7},{"s":"390'C","t":35.97,"v":4.62e7},{"s":"390'C","t":36.3,"v":4.79e7},{"s":"390'C","t":36.64,"v":4.89e7},{"s":"390'C","t":37.1,"v":5.42e7},{"s":"390'C","t":37.24,"v":5.16e7},{"s":"390'C","t":37.38,"v":5.4e7},{"s":"390'C","t":37.5,"v":5.19e7},{"s":"390'C","t":37.64,"v":5.22e7},{"s":"390'C","t":37.9,"v":4.76e7},{"s":"390'C","t":38.0,"v":4.62e7},{"s":"390'C","t":38.18,"v":6.34e7},{"s":"390'C","t":38.3,"v":4.62e7},{"s":"390'C","t":38.45,"v":4.76e7},{"s":"390'C","t":38.65,"v":4.63e7},{"s":"390'C","t":39.0,"v":5.13e7},{"s":"390'C","t":39.1,"v":4.63e7},{"s":"390'C","t":39.6,"v":4.67e7},{"s":"390'C","t":39.85,"v":4.62e7},{"s":"390'C","t":40.2,"v":4.89e7},{"s":"390'C","t":40.3,"v":4.63e7},{"s":"390'C","t":40.5,"v":4.93e7},{"s":"390'C","t":40.65,"v":4.63e7},{"s":"390'C","t":40.95,"v":4.68e7},{"s":"390'C","t":41.4,"v":6.29e7},{"s":"390'C","t":41.55,"v":4.63e7},{"s":"390'C","t":41.9,"v":4.63e7},{"s":"390'C","t":42.2,"v":4.89e7},{"s":"390'C","t":42.35,"v":4.7e7},{"s":"390'C","t":42.5,"v":4.63e7},{"s":"390'C","t":42.7,"v":4.62e7},{"s":"390'C","t":43.0,"v":5.03e7},{"s":"390'C","t":43.1,"v":4.62e7},{"s":"390'C","t":43.7,"v":4.6e7},{"s":"390'C","t":44.1,"v":4.72e7},{"s":"390'C","t":44.3,"v":4.6e7},{"s":"390'C","t":45.0,"v":4.62e7},{"s":"390'C","t":45.3,"v":4.58e7},{"s":"390'C","t":45.7,"v":4.68e7},{"s":"390'C","t":45.95,"v":4.58e7},{"s":"390'C","t":47.0,"v":4.58e7},{"s":"390'C","t":47.5,"v":4.9e7},{"s":"390'C","t":47.7,"v":4.58e7},{"s":"390'C","t":49.7,"v":4.58e7},{"s":"390'C","t":50.8,"v":4.59e7},{"s":"390'C","t":54.2,"v":4.62e7},{"s":"390'C","t":54.4,"v":4.67e7},{"s":"390'C","t":54.6,"v":4.63e7},{"s":"390'C","t":56.6,"v":4.7e7},{"s":"390'C","t":56.7,"v":4.75e7},{"s":"390'C","t":56.8,"v":4.71e7},{"s":"390'C","t":57.6,"v":4.74e7},{"s":"390'C","t":57.7,"v":4.79e7},{"s":"390'C","t":57.8,"v":4.75e7},{"s":"390'C","t":59.3,"v":4.78e7},{"s":"390'C","t":59.55,"v":5.02e7},{"s":"390'C","t":59.75,"v":4.77e7},{"s":"390'C","t":60.4,"v":4.84e7},{"s":"390'C","t":61.45,"v":4.86e7},{"s":"390'C","t":61.55,"v":4.93e7},{"s":"390'C","t":61.65,"v":4.86e7},{"s":"390'C","t":62.2,"v":4.86e7},{"s":"390'C","t":62.9,"v":4.91e7},{"s":"390'C","t":63.6,"v":4.92e7},{"s":"390'C","t":63.7,"v":4.97e7},{"s":"390'C","t":63.85,"v":4.92e7},{"s":"390'C","t":64.0,"v":4.97e7},{"s":"390'C","t":64.45,"v":4.89e7},{"s":"390'C","t":66.7,"v":4.89e7},{"s":"390'C","t":68.6,"v":4.89e7},{"s":"390'C","t":68.7,"v":4.92e7},{"s":"390'C","t":68.9,"v":4.86e7},{"s":"390'C","t":70,"v":4.85e7}
],
"labels":[
{"lab":"a","t":8.44,"v":5.857e7},{"lab":"b","t":9.21,"v":5.143e7},{"lab":"d","t":12.38,"v":5.316e7},{"lab":"e","t":12.93,"v":5.143e7},{"lab":"f","t":14.84,"v":5.5e7},{"lab":"g","t":15.77,"v":5.122e7},{"lab":"h","t":18.52,"v":5.449e7},{"lab":"i","t":21.17,"v":6.133e7},{"lab":"k","t":22.2,"v":5.092e7},{"lab":"l","t":23.68,"v":4.99e7},{"lab":"m","t":24.31,"v":5.439e7},{"lab":"n","t":25.28,"v":4.939e7},{"lab":"q","t":27.73,"v":5.827e7},{"lab":"r","t":28.9,"v":5.245e7},{"lab":"s","t":30.27,"v":5.214e7},{"lab":"t","t":31.41,"v":6.337e7},{"lab":"u","t":32.48,"v":6.337e7},{"lab":"w","t":32.62,"v":5.143e7},{"lab":"x","t":33.96,"v":5.143e7},{"lab":"y","t":35.06,"v":6.184e7},{"lab":"z","t":35.2,"v":5.949e7},{"lab":"A","t":37.0,"v":5.694e7},{"lab":"B","t":37.38,"v":5.663e7},{"lab":"C","t":37.61,"v":5.49e7},{"lab":"D","t":38.14,"v":6.612e7},{"lab":"E","t":40.56,"v":5.184e7},{"lab":"F","t":41.43,"v":6.561e7},{"lab":"G","t":42.93,"v":5.286e7},{"lab":"H","t":47.52,"v":5.163e7},{"lab":"J","t":59.48,"v":5.286e7}
]
},
"layer":[
{"data":{"name":"series"},
 "mark":{"type":"line","strokeWidth":2.75,"strokeJoin":"round"},
 "encoding":{
  "x":{"field":"t","type":"quantitative","scale":{"domain":[0,70],"nice":false},
       "axis":{"title":"Time, min","values":[0,10,20,30,40,50,60,70],"grid":true,"gridColor":"#D9D9D9","gridWidth":1.5,"domainColor":"#D9D9D9","domainWidth":1.5,"ticks":false,"labelFontSize":21,"labelColor":"#595959","labelFont":"Open Sans","labelPadding":20,"titleFontSize":23,"titleColor":"#595959","titleFont":"Open Sans","titleFontWeight":"normal","titleX":522,"titleY":72,"titleBaseline":"middle"}},
  "y":{"field":"v","type":"quantitative","scale":{"domain":[0,70000000],"nice":false},
       "axis":{"title":"Absolute Intensity","values":[0,10000000,20000000,30000000,40000000,50000000,60000000,70000000],"labelExpr":"replace(format(datum.value,'.1e'),'e','E')","grid":true,"gridColor":"#D9D9D9","gridWidth":1.5,"domainColor":"#D9D9D9","domainWidth":1.5,"ticks":false,"labelFontSize":21,"labelColor":"#595959","labelFont":"Open Sans","labelPadding":18,"titleFontSize":23,"titleColor":"#595959","titleFont":"Open Sans","titleFontWeight":"normal","titleX":-109,"titleY":343,"titleAngle":-90,"titleBaseline":"middle","titleAlign":"center"}},
  "color":{"field":"s","type":"nominal",
    "scale":{"domain":["180'C","210'C","230'C","240'C","270'C","300'C","330'C","350'C","360'C","390'C"],
             "range":["#A5A5A5","#FFC000","#5B9BD5","#70AD47","#264478","#9E480E","#636363","#997300","#255E91","#4472C4"]},
    "legend":{"orient":"none","direction":"horizontal","legendX":805,"legendY":-28,"columns":2,"symbolType":"stroke","symbolSize":2704,"symbolStrokeWidth":3,"clipHeight":21,"rowPadding":12,"columnPadding":16,"labelFontSize":21,"labelColor":"#595959","labelFont":"Open Sans","labelOffset":5,"title":null,"padding":0}}
 }},
{"data":{"name":"labels"},
 "mark":{"type":"text","font":"Open Sans","fontSize":23,"color":"#404040","baseline":"alphabetic","align":"center"},
 "encoding":{
  "x":{"field":"t","type":"quantitative"},
  "y":{"field":"v","type":"quantitative"},
  "text":{"field":"lab","type":"nominal"}
 }}
]
}
